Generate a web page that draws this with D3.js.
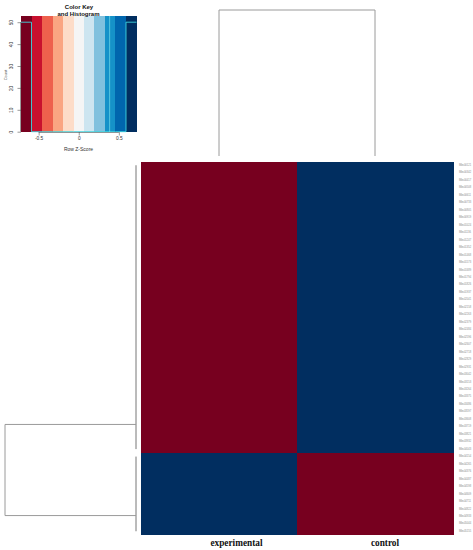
<!DOCTYPE html>
<html><head><meta charset="utf-8">
<script src="https://cdn.jsdelivr.net/npm/d3@7"></script>
<style>body{margin:0;background:#fff}svg{display:block}</style>
</head><body><svg id="c" width="473" height="550"></svg>
<script>
// ---------- DATA ----------
const columns = ["experimental", "control"];
const rowLabels = [
 "Mbs00121","Mbs00342","Mbs00417","Mbs00508","Mbs00611","Mbs00733","Mbs00805","Mbs00919","Mbs01024","Mbs01136",
 "Mbs01247","Mbs01352","Mbs01468","Mbs01573","Mbs01689","Mbs01794","Mbs01826","Mbs01937","Mbs02041","Mbs02158",
 "Mbs02263","Mbs02379","Mbs02484","Mbs02596","Mbs02607","Mbs02718","Mbs02829","Mbs02931","Mbs03042","Mbs03153",
 "Mbs03264","Mbs03375","Mbs03486","Mbs03597","Mbs03608","Mbs03719","Mbs03821","Mbs03932","Mbs04043","Mbs04154",
 "Mbs04265","Mbs04376","Mbs04487","Mbs04598","Mbs04609","Mbs04711","Mbs04822","Mbs04933","Mbs05044","Mbs05155"
];
const zExperimental = [
 -0.707,-0.707,-0.707,-0.707,-0.707,-0.707,-0.707,-0.707,-0.707,-0.707,
 -0.707,-0.707,-0.707,-0.707,-0.707,-0.707,-0.707,-0.707,-0.707,-0.707,
 -0.707,-0.707,-0.707,-0.707,-0.707,-0.707,-0.707,-0.707,-0.707,-0.707,
 -0.707,-0.707,-0.707,-0.707,-0.707,-0.707,-0.707,-0.707,-0.707, 0.707,
  0.707, 0.707, 0.707, 0.707, 0.707, 0.707, 0.707, 0.707, 0.707, 0.707
];
const zControl = [
  0.707, 0.707, 0.707, 0.707, 0.707, 0.707, 0.707, 0.707, 0.707, 0.707,
  0.707, 0.707, 0.707, 0.707, 0.707, 0.707, 0.707, 0.707, 0.707, 0.707,
  0.707, 0.707, 0.707, 0.707, 0.707, 0.707, 0.707, 0.707, 0.707, 0.707,
  0.707, 0.707, 0.707, 0.707, 0.707, 0.707, 0.707, 0.707, 0.707,-0.707,
 -0.707,-0.707,-0.707,-0.707,-0.707,-0.707,-0.707,-0.707,-0.707,-0.707
];
const keyBreaks = [-0.72,-0.589,-0.458,-0.327,-0.196,-0.065,0.065,0.196,0.327,0.458,0.589,0.72];
const keyColors = ["#77001F","#C8102E","#EE604D","#FAA582","#FDDCC8","#F5F5F5","#CDE5F0","#80C1DE","#1592C8","#0066AE","#012E60"];
const histCounts = [50,0,0,0,0,0,0,0,0,0,50];
const keyXTicks = [-0.5, 0, 0.5];
const keyYTicks = [0, 10, 20, 30, 40, 50];
const keyMarkValue = 0.385;
// row dendrogram: two clusters (leaf index ranges), node midpoint in leaf units
const rowClusters = [
  {first: 0, last: 38, mid: 34.7, height: 0},
  {first: 39, last: 49, mid: 46.9, height: 0}
];
const rowRootHeight = 1;
const colRootHeight = 1;

// ---------- DRAW ----------
const svg = d3.select("#c");
const gray = "#9a9a9a";

// heatmap
const x = d3.scaleBand().domain(columns).range([141, 453]);
const y = d3.scaleBand().domain(d3.range(rowLabels.length)).range([161.5, 535]);
const color = d3.scaleThreshold().domain(keyBreaks.slice(1, -1)).range(keyColors);
const series = {experimental: zExperimental, control: zControl};
const cells = [];
columns.forEach(c => series[c].forEach((v, i) => cells.push({c, i, v})));
svg.append("g").attr("shape-rendering", "crispEdges")
  .selectAll("rect").data(cells).join("rect")
  .attr("x", d => x(d.c)).attr("y", d => y(d.i))
  .attr("width", x.bandwidth() + 0.6)
  .attr("height", d => d.i === rowLabels.length - 1 ? y.bandwidth() : y.bandwidth() + 1)
  .attr("fill", d => color(d.v));

// row labels
svg.append("g").selectAll("text").data(rowLabels).join("text")
  .attr("x", 459).attr("y", (d, i) => y(i) + y.bandwidth() / 2)
  .attr("dominant-baseline", "middle")
  .attr("font-family", "Liberation Sans, Arial, sans-serif")
  .attr("font-size", 2.6).attr("fill", "#8a8a8a").text(d => d);

// column labels
const labelDx = [17.5, 10];
svg.append("g").selectAll("text").data(columns).join("text")
  .attr("x", (d, i) => x(d) + x.bandwidth() / 2 + labelDx[i]).attr("y", 546)
  .attr("text-anchor", "middle")
  .attr("font-family", "Liberation Serif, Times New Roman, serif")
  .attr("font-weight", "bold").attr("font-size", 9.3).attr("fill", "#111")
  .text(d => d);

// column dendrogram
const colH = d3.scaleLinear().domain([0, colRootHeight]).range([156, 10]);
const cx = columns.map(c => x(c) + x.bandwidth() / 2);
svg.append("path")
  .attr("d", `M${cx[0]},${colH(0)}V${colH(colRootHeight)}H${cx[1]}V${colH(0)}`)
  .attr("fill", "none").attr("stroke", gray).attr("stroke-width", 1);

// row dendrogram
const rowH = d3.scaleLinear().domain([0, rowRootHeight]).range([136, 5]);
const leafY = d3.scaleLinear().domain([0, rowLabels.length - 1])
  .range([y(0) + y.bandwidth() / 2, y(rowLabels.length - 1) + y.bandwidth() / 2]);
const rd = svg.append("g").attr("fill", "none");
rowClusters.forEach(cl => {
  rd.append("line").attr("x1", rowH(cl.height)).attr("x2", rowH(cl.height))
    .attr("y1", leafY(cl.first)).attr("y2", leafY(cl.last))
    .attr("stroke", "#777").attr("stroke-width", 1);
  rd.append("line").attr("x1", rowH(cl.height)).attr("x2", rowH(rowRootHeight))
    .attr("y1", leafY(cl.mid)).attr("y2", leafY(cl.mid))
    .attr("stroke", gray).attr("stroke-width", 1);
});
rd.append("line").attr("x1", rowH(rowRootHeight)).attr("x2", rowH(rowRootHeight))
  .attr("y1", leafY(rowClusters[0].mid)).attr("y2", leafY(rowClusters[1].mid))
  .attr("stroke", gray).attr("stroke-width", 1);

// ---------- COLOR KEY ----------
const kx = d3.scaleLinear().domain([keyBreaks[0], keyBreaks[keyBreaks.length - 1]]).range([21, 136.5]);
const ky = d3.scaleLinear().domain([0, 50]).range([131.7, 22.2]);
const kTop = 16, kBottom = 132;
const key = svg.append("g");
key.append("g").attr("shape-rendering", "crispEdges")
  .selectAll("rect").data(keyColors).join("rect")
  .attr("x", (d, i) => kx(keyBreaks[i])).attr("y", kTop)
  .attr("width", (d, i) => kx(keyBreaks[i + 1]) - kx(keyBreaks[i]) + (i < keyColors.length - 1 ? 1 : 0))
  .attr("height", kBottom - kTop).attr("fill", d => d);

// histogram steps
const steps = [];
histCounts.forEach((c, i) => { steps.push([kx(keyBreaks[i]), ky(c)]); steps.push([kx(keyBreaks[i + 1]), ky(c)]); });
key.append("path").attr("d", d3.line()(steps))
  .attr("fill", "none").attr("stroke", "#3fd6e0").attr("stroke-width", 0.9);
key.append("line").attr("x1", kx(keyMarkValue)).attr("x2", kx(keyMarkValue))
  .attr("y1", kTop).attr("y2", kBottom)
  .attr("stroke", "#7fe3ee").attr("stroke-width", 0.8).attr("opacity", 0.8);

// axes
const axisCol = "#555";
const xa = key.append("g").attr("transform", `translate(0,${kBottom})`)
  .call(d3.axisBottom(kx).tickValues(keyXTicks).tickSize(3.5).tickPadding(1.5)
    .tickFormat(d => d === 0 ? "0" : String(d)));
xa.select(".domain").attr("d", `M${kx(keyXTicks[0])},0.5H${kx(keyXTicks[2])}`).attr("stroke", axisCol).attr("stroke-width", 0.6);
xa.selectAll(".tick line").attr("stroke", axisCol).attr("stroke-width", 0.6);
xa.selectAll("text").attr("font-size", 4.8).attr("fill", "#333").attr("font-family", "Liberation Sans, Arial, sans-serif");

const ya = key.append("g").attr("transform", "translate(21,0)")
  .call(d3.axisLeft(ky).tickValues(keyYTicks).tickSize(3.5).tickPadding(2));
ya.select(".domain").attr("d", `M-0.5,${ky(0)}V${ky(50)}`).attr("stroke", axisCol).attr("stroke-width", 0.6);
ya.selectAll(".tick line").attr("stroke", axisCol).attr("stroke-width", 0.6);
ya.selectAll("text").attr("font-size", 4.8).attr("fill", "#333")
  .attr("font-family", "Liberation Sans, Arial, sans-serif")
  .attr("text-anchor", "middle").attr("dy", 0)
  .attr("transform", "translate(-8.5,0) rotate(-90)").attr("x", 0);

key.append("text").attr("x", 78.5).attr("y", 151)
  .attr("text-anchor", "middle").attr("font-size", 5).attr("fill", "#333")
  .attr("font-family", "Liberation Sans, Arial, sans-serif").text("Row Z-Score");
key.append("text").attr("transform", "translate(7,75) rotate(-90)")
  .attr("text-anchor", "middle").attr("font-size", 4).attr("fill", "#555")
  .attr("font-family", "Liberation Sans, Arial, sans-serif").text("Count");
key.append("text").attr("x", 79).attr("y", 9)
  .attr("text-anchor", "middle").attr("font-size", 6).attr("font-weight", "bold").attr("fill", "#111")
  .attr("font-family", "Liberation Sans, Arial, sans-serif").text("Color Key");
key.append("text").attr("x", 78.5).attr("y", 15.5)
  .attr("text-anchor", "middle").attr("font-size", 6).attr("font-weight", "bold").attr("fill", "#111")
  .attr("font-family", "Liberation Sans, Arial, sans-serif").text("and Histogram");
</script></body></html>
